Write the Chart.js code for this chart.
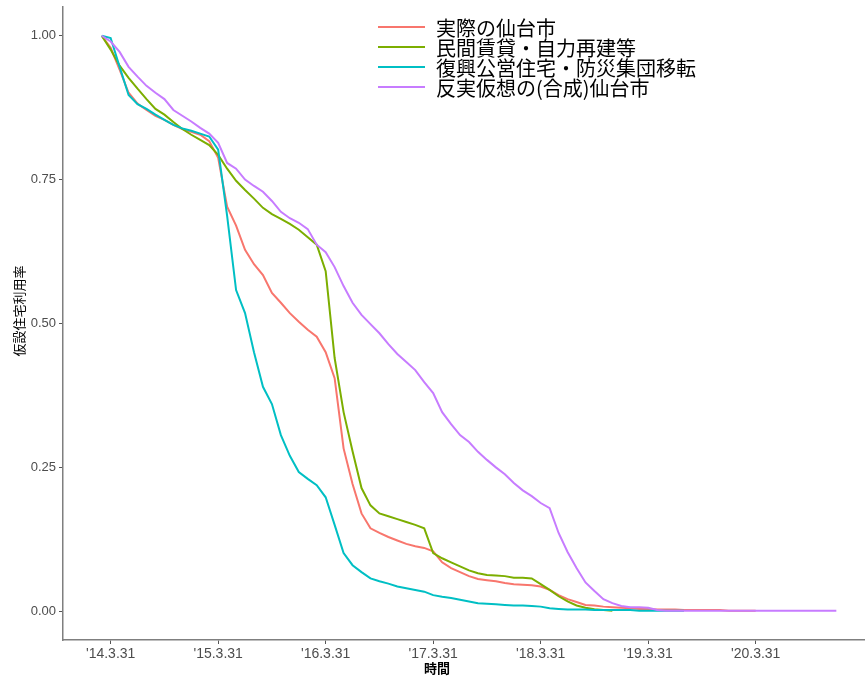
<!DOCTYPE html>
<html>
<head>
<meta charset="utf-8">
<script src="https://cdn.jsdelivr.net/npm/chart.js@4"></script>
<style>
  body { margin: 0; background: #fff; }
</style>
</head>
<body>
<canvas id="rateChart" width="865" height="682"></canvas>
<script>
// months counted from 2014-03 (0 = '14.3.31)
const seriesNames = ['実際の仙台市', '民間賃貸・自力再建等', '復興公営住宅・防災集団移転', '反実仮想の(合成)仙台市'];
const seriesColors = ['#F8766D', '#7CAE00', '#00BFC4', '#C77CFF'];
const tickMonths = [0, 12, 24, 36, 48, 60, 72];
const tickLabels = ["'14.3.31", "'15.3.31", "'16.3.31", "'17.3.31", "'18.3.31", "'19.3.31", "'20.3.31"];
const firstMonth = -1;

const actualSendai = [
  1.000, 0.979, 0.941, 0.901, 0.882, 0.871, 0.861, 0.854, 0.845, 0.838,
  0.833, 0.828, 0.817, 0.788, 0.703, 0.670, 0.628, 0.603, 0.584, 0.553,
  0.536, 0.518, 0.503, 0.489, 0.477, 0.450, 0.405, 0.283, 0.221, 0.170,
  0.144, 0.136, 0.129, 0.123, 0.117, 0.113, 0.110, 0.104, 0.085, 0.075,
  0.068, 0.061, 0.056, 0.054, 0.052, 0.049, 0.047, 0.046, 0.045, 0.043,
  0.037, 0.028, 0.021, 0.016, 0.011, 0.010, 0.008, 0.007, 0.006, 0.005,
  0.004, 0.004, 0.003, 0.003, 0.003, 0.002, 0.002, 0.002, 0.002, 0.002,
  0.001, 0.001, 0.001, 0.001
];
const privateRental = [
  1.000, 0.976, 0.948, 0.927, 0.908, 0.890, 0.873, 0.863, 0.850, 0.838,
  0.828, 0.819, 0.810, 0.793, 0.769, 0.748, 0.732, 0.717, 0.701, 0.690,
  0.682, 0.673, 0.663, 0.650, 0.637, 0.591, 0.440, 0.346, 0.278, 0.214,
  0.184, 0.170, 0.165, 0.160, 0.155, 0.150, 0.144, 0.101, 0.092, 0.085,
  0.078, 0.071, 0.066, 0.063, 0.062, 0.061, 0.058, 0.058, 0.057, 0.047,
  0.037, 0.026, 0.017, 0.010, 0.006, 0.0035, 0.002, 0.001
];
const publicHousing = [
  1.000, 0.996, 0.946, 0.897, 0.881, 0.873, 0.863, 0.854, 0.845, 0.839,
  0.835, 0.830, 0.825, 0.802, 0.687, 0.558, 0.518, 0.450, 0.390, 0.360,
  0.306, 0.270, 0.242, 0.230, 0.219, 0.198, 0.150, 0.101, 0.080, 0.068,
  0.057, 0.052, 0.048, 0.043, 0.040, 0.037, 0.034, 0.028, 0.025, 0.023,
  0.020, 0.017, 0.014, 0.013, 0.012, 0.011, 0.010, 0.010, 0.009, 0.008,
  0.005, 0.004, 0.003, 0.003, 0.003, 0.002, 0.002, 0.002, 0.002, 0.002,
  0.001, 0.001, 0.001, 0.001, 0.001, 0.001
];
const counterfactual = [
  1.000, 0.990, 0.972, 0.946, 0.929, 0.913, 0.901, 0.890, 0.871, 0.861,
  0.851, 0.840, 0.830, 0.814, 0.779, 0.769, 0.750, 0.739, 0.729, 0.713,
  0.694, 0.683, 0.675, 0.664, 0.637, 0.624, 0.598, 0.565, 0.536, 0.515,
  0.499, 0.483, 0.464, 0.447, 0.433, 0.419, 0.398, 0.379, 0.346, 0.325,
  0.306, 0.294, 0.277, 0.263, 0.250, 0.238, 0.223, 0.210, 0.200, 0.188,
  0.179, 0.136, 0.103, 0.075, 0.050, 0.035, 0.021, 0.014, 0.009, 0.007,
  0.007, 0.006, 0.002, 0.001, 0.001, 0.001, 0.001, 0.001, 0.001, 0.001,
  0.001, 0.001, 0.001, 0.001, 0.001, 0.001, 0.001, 0.001, 0.001, 0.001,
  0.001, 0.001, 0.001
];

const allSeries = [actualSendai, privateRental, publicHousing, counterfactual];

function toPoints(values) {
  return values.map((v, i) => ({ x: firstMonth + i, y: v }));
}

// legend + axis titles drawn by hand, ggplot style
const overlay = {
  id: 'overlay',
  afterDraw(chart) {
    const ctx = chart.ctx;
    ctx.save();
    ctx.textBaseline = 'middle';
    seriesNames.forEach((name, i) => {
      const y = 27 + i * 20;
      ctx.strokeStyle = seriesColors[i];
      ctx.lineWidth = 2;
      ctx.beginPath();
      ctx.moveTo(378, y);
      ctx.lineTo(425, y);
      ctx.stroke();
      ctx.fillStyle = '#000';
      ctx.font = '20px "Noto Sans CJK JP"';
      ctx.textAlign = 'left';
      ctx.fillText(name, 436, y + 1);
    });

    ctx.fillStyle = '#000';
    ctx.font = 'bold 13px "Noto Sans CJK JP"';
    ctx.textAlign = 'center';
    ctx.fillText('時間', 437, 668);

    ctx.translate(19, 311);
    ctx.rotate(-Math.PI / 2);
    ctx.font = '13px "Noto Sans CJK JP"';
    ctx.fillText('仮設住宅利用率', 0, 0);
    ctx.restore();
  }
};

new Chart(document.getElementById('rateChart'), {
  type: 'line',
  data: {
    datasets: allSeries.map((vals, i) => ({
      label: seriesNames[i],
      data: toPoints(vals),
      borderColor: seriesColors[i],
      borderWidth: 2,
      pointRadius: 0,
      tension: 0,
      fill: false,
      order: 3 - i,
    })),
  },
  options: {
    responsive: false,
    animation: false,
    layout: { padding: { top: 7, right: 0, left: 0, bottom: 0 } },
    plugins: {
      legend: { display: false },
      tooltip: { enabled: false },
    },
    scales: {
      x: {
        type: 'linear',
        min: -5.32,
        max: 84.2,
        afterBuildTicks: (scale) => {
          scale.ticks = tickMonths.map(v => ({ value: v }));
        },
        afterFit: (scale) => {
          scale.height = 42;
          scale.paddingLeft = 0;
          scale.paddingRight = 0;
        },
        ticks: {
          autoSkip: false,
          maxRotation: 0,
          padding: 2,
          color: '#4d4d4d',
          font: { family: 'Liberation Sans', size: 14 },
          callback: (value) => tickLabels[tickMonths.indexOf(value)],
        },
        grid: { drawOnChartArea: false, tickLength: 4, color: '#555' },
        border: { color: '#7f7f7f', width: 1.5 },
      },
      y: {
        min: -0.05,
        max: 1.05,
        afterBuildTicks: (scale) => {
          scale.ticks = [0, 0.25, 0.5, 0.75, 1].map(v => ({ value: v }));
        },
        afterFit: (scale) => {
          scale.width = 63;
          scale.paddingTop = 0;
          scale.paddingBottom = 0;
        },
        ticks: {
          padding: 3,
          color: '#4d4d4d',
          font: { family: 'Liberation Sans', size: 13 },
          callback: (value) => value.toFixed(2),
        },
        grid: { drawOnChartArea: false, tickLength: 4, color: '#555' },
        border: { color: '#7f7f7f', width: 1.5 },
      },
    },
  },
  plugins: [overlay],
});
</script>
</body>
</html>
